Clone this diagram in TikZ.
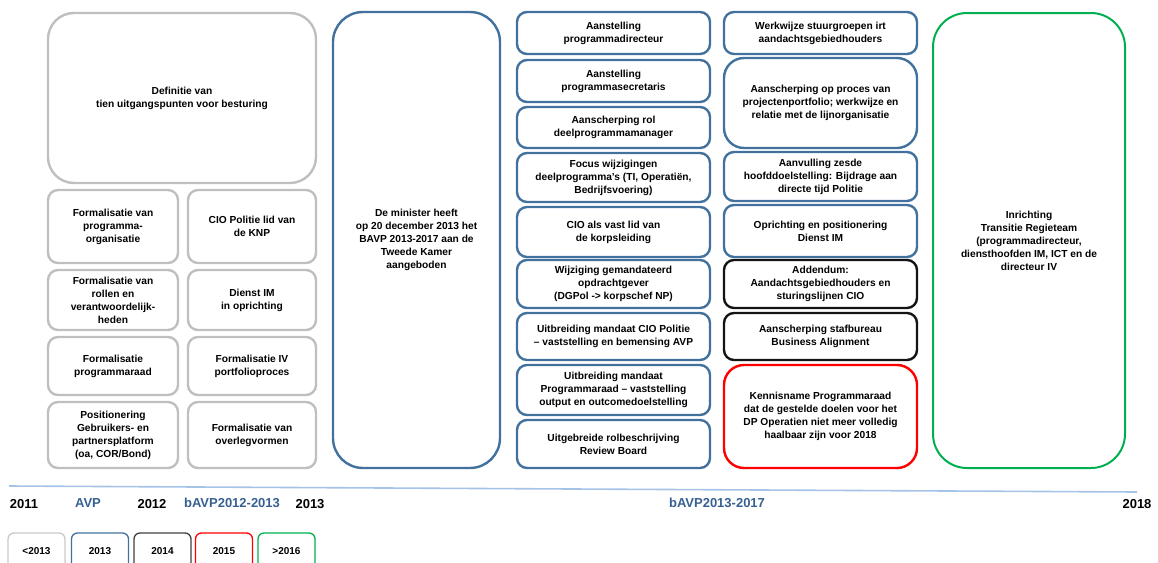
\documentclass[tikz,border=0pt]{standalone}
\usepackage{fontspec}
\setmainfont{Liberation Sans}
\definecolor{grijs}{RGB}{191,191,191}
\definecolor{blauw}{RGB}{65,113,156}
\definecolor{donker}{RGB}{20,20,20}
\definecolor{rood}{RGB}{255,0,0}
\definecolor{groen}{RGB}{0,176,80}
\definecolor{tijdblauw}{RGB}{55,96,146}
\definecolor{lijnblauw}{RGB}{165,195,230}
\begin{document}
\begin{tikzpicture}[x=1pt, y=-1pt,
		vak/.style={draw, line width=2.4pt, rounded corners=10pt, align=center, inner sep=0pt,
			font=\bfseries\fontsize{10.2}{13}\selectfont},
		grijsvak/.style={vak, draw=grijs},
		blauwvak/.style={vak, draw=blauw},
		zwartvak/.style={vak, draw=donker},
		roodvak/.style={vak, draw=rood, rounded corners=20pt},
		groenvak/.style={vak, draw=groen, line width=2pt, rounded corners=34pt},
		jaar/.style={font=\bfseries\fontsize{13}{15}\selectfont},
		periode/.style={jaar, text=tijdblauw},
		legenda/.style={draw, line width=1.3pt, rounded corners=6pt, minimum width=57pt, minimum height=36pt,
			font=\bfseries\fontsize{10}{12}\selectfont}]
	\useasboundingbox (0,0) rectangle (1158,562);
	\clip (0,0) rectangle (1158,562);

	\node[grijsvak, rounded corners=26pt, minimum width=268pt, minimum height=170pt] (definitie) at (182,98) {Definitie van\\tien uitgangspunten voor besturing};
	\node[grijsvak, minimum width=130pt, minimum height=73pt] (formorg) at (113,226.5) {Formalisatie van\\programma-\\organisatie};
	\node[grijsvak, minimum width=128pt, minimum height=73pt] (ciolid) at (252,226.5) {CIO Politie lid van\\de KNP};
	\node[grijsvak, minimum width=130pt, minimum height=60pt] (formrol) at (113,300) {Formalisatie van\\rollen en\\verantwoordelijk-\\heden};
	\node[grijsvak, minimum width=128pt, minimum height=60pt] (dienstim) at (252,300) {Dienst IM\\in oprichting};
	\node[grijsvak, minimum width=130pt, minimum height=58pt] (formraad) at (113,366) {Formalisatie\\programmaraad};
	\node[grijsvak, minimum width=128pt, minimum height=58pt] (formiv) at (252,366) {Formalisatie IV\\portfolioproces};
	\node[grijsvak, minimum width=130pt, minimum height=66pt] (platform) at (113,435) {Positionering\\Gebruikers- en\\partnersplatform\\(oa, COR/Bond)};
	\node[grijsvak, minimum width=128pt, minimum height=66pt] (overleg) at (252,435) {Formalisatie van\\overlegvormen};

	\node[blauwvak, rounded corners=30pt, minimum width=167pt, minimum height=456pt] (minister) at (416.5,240) {De minister heeft\\op 20 december 2013 het\\BAVP 2013-2017 aan de\\Tweede Kamer\\aangeboden};

	\node[blauwvak, minimum width=193pt, minimum height=42pt] (directeur) at (613.5,33) {Aanstelling\\programmadirecteur};
	\node[blauwvak, minimum width=193pt, minimum height=42pt] (secretaris) at (613.5,81) {Aanstelling\\programmasecretaris};
	\node[blauwvak, minimum width=193pt, minimum height=41pt] (manager) at (613.5,127.5) {Aanscherping rol\\deelprogrammamanager};
	\node[blauwvak, minimum width=193pt, minimum height=49pt] (focus) at (613.5,177.5) {Focus wijzigingen\\deelprogramma’s (TI, Operatiën,\\Bedrijfsvoering)};
	\node[blauwvak, minimum width=193pt, minimum height=50pt] (korps) at (613.5,232) {CIO als vast lid van\\de korpsleiding};
	\node[blauwvak, minimum width=193pt, minimum height=48pt] (opdracht) at (613.5,284) {Wijziging gemandateerd\\opdrachtgever\\(DGPol -> korpschef NP)};
	\node[blauwvak, minimum width=193pt, minimum height=47pt] (mandaatcio) at (613.5,336.5) {Uitbreiding mandaat CIO Politie\\– vaststelling en bemensing AVP};
	\node[blauwvak, minimum width=193pt, minimum height=50pt] (mandaatraad) at (613.5,390) {Uitbreiding mandaat\\Programmaraad – vaststelling\\output en outcomedoelstelling};
	\node[blauwvak, minimum width=193pt, minimum height=48pt] (review) at (613.5,444) {Uitgebreide rolbeschrijving\\Review Board};

	\node[blauwvak, minimum width=193pt, minimum height=42pt] (stuurgroep) at (820.5,33) {Werkwijze stuurgroepen irt\\aandachtsgebiedhouders};
	\node[blauwvak, rounded corners=20pt, minimum width=193pt, minimum height=90pt] (portfolio) at (820.5,103) {Aanscherping op proces van\\projectenportfolio; werkwijze en\\relatie met de lijnorganisatie};
	\node[blauwvak, minimum width=193pt, minimum height=49pt] (zesde) at (820.5,176.5) {Aanvulling zesde\\hoofddoelstelling: Bijdrage aan\\directe tijd Politie};
	\node[blauwvak, minimum width=193pt, minimum height=52pt] (oprichting) at (820.5,231) {Oprichting en positionering\\Dienst IM};
	\node[zwartvak, minimum width=193pt, minimum height=48pt] (addendum) at (820.5,284) {Addendum:\\Aandachtsgebiedhouders en\\sturingslijnen CIO};
	\node[zwartvak, minimum width=193pt, minimum height=47pt] (stafbureau) at (820.5,336.5) {Aanscherping stafbureau\\Business Alignment};
	\node[roodvak, minimum width=193pt, minimum height=103pt] (kennisname) at (820.5,416.5) {Kennisname Programmaraad\\dat de gestelde doelen voor het\\DP Operatien niet meer volledig\\haalbaar zijn voor 2018};

	\node[groenvak, minimum width=192pt, minimum height=455pt] (regieteam) at (1029,240.5) {Inrichting\\Transitie Regieteam\\(programmadirecteur,\\diensthoofden IM, ICT en de\\directeur IV};

	\coordinate (begin) at (9,486);
	\coordinate (eind) at (1137,492);
	\draw[lijnblauw, line width=1.6pt] (begin) -- (eind);

	\node[jaar] (j2011) at (24,504) {2011};
	\node[periode] (avp) at (88,503) {AVP};
	\node[jaar] (j2012) at (152,504) {2012};
	\node[periode] (bavp1) at (232,503) {bAVP2012-2013};
	\node[jaar] (j2013) at (310,504) {2013};
	\node[periode] (bavp2) at (717,503) {bAVP2013-2017};
	\node[jaar] (j2018) at (1137,504) {2018};

	\node[legenda, draw=grijs!85!white] (leg1) at (36.5,551) {<2013};
	\node[legenda, draw=blauw] (leg2) at (100,551) {2013};
	\node[legenda, draw=black!75] (leg3) at (162.5,551) {2014};
	\node[legenda, draw=rood] (leg4) at (224,551) {2015};
	\node[legenda, draw=groen] (leg5) at (286.5,551) {>2016};
\end{tikzpicture}
\end{document}
